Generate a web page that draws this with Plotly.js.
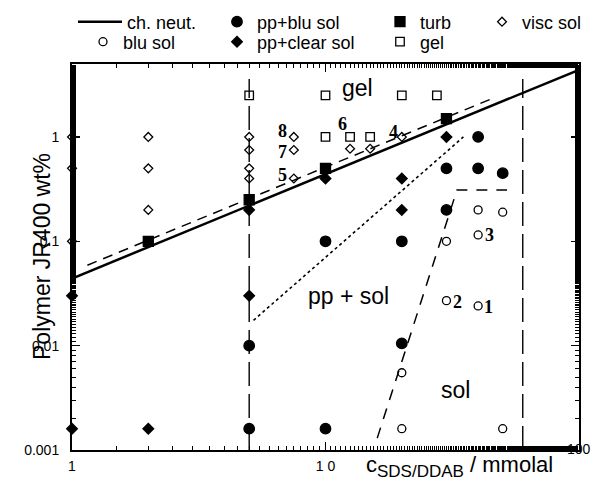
<!DOCTYPE html>
<html>
<head>
<meta charset="utf-8">
<script src="https://cdn.plot.ly/plotly-3.0.1.min.js"></script>
<style>html,body{margin:0;padding:0;background:#fff;}#chart{width:598px;height:489px;}</style>
</head>
<body>
<div id="chart"></div>
<script>
// ---- data ----
const chNeutX = [1, 100];
const chNeutY = [0.044, 4.4];
const chNeutDashX = [1.15, 46];
const chNeutDashY = [0.059, 2.36];
const ppBoundX = [5.2, 35];
const ppBoundY = [0.0175, 1.0];
const solBoundX = [16, 33, 52];
const solBoundY = [0.0013, 0.31, 0.31];
const limitLowX = [5, 5];
const limitHighX = [60, 60];
const limitY = [0.001, 3.6];

const viscX = [1, 1, 1, 2, 2, 2, 5, 5, 5, 5, 7.5, 7.5, 7.5, 12.5, 15, 20];
const viscY = [1, 0.5, 0.1, 1, 0.5, 0.2, 1, 0.75, 0.5, 0.4, 1, 0.75, 0.4, 0.77, 0.77, 1.0];
const gelX = [5, 10, 20, 27.5, 10, 12.5, 15];
const gelY = [2.5, 2.5, 2.5, 2.5, 1, 1, 1];
const turbX = [2, 5, 10, 30];
const turbY = [0.1, 0.25, 0.5, 1.5];
const ppClearX = [1, 1, 2, 5, 5, 10, 20, 20, 30];
const ppClearY = [0.03, 0.0016, 0.0016, 0.2, 0.03, 0.4, 0.4, 0.2, 1.0];
const ppBluX = [5, 5, 10, 10, 20, 20, 30, 30, 40, 40, 50];
const ppBluY = [0.01, 0.0016, 0.0016, 0.1, 0.1, 0.0105, 0.5, 0.2, 1.0, 0.5, 0.45];
const bluX = [20, 20, 30, 30, 40, 40, 40, 50, 50];
const bluY = [0.0055, 0.0016, 0.1, 0.027, 0.2, 0.115, 0.024, 0.19, 0.0016];

const xTickVals = [1, 10];
const xTickText = ['1', '1 0'];
const yTickVals = [0.001, 0.01, 0.1, 1];
const yTickText = ['0.001', '0.01', '0.1', '1'];

const regionLabels = ['gel', 'pp + sol', 'sol'];
const regionX = [13.4, 12.3, 32.7];
const regionY = [2.93, 0.030, 0.0038];
const sampleLabels = ['1', '2', '3', '4', '5', '6', '7', '8'];
const sampleX = [43.8, 33.3, 44.5, 18.6, 6.74, 11.7, 6.74, 6.74];
const sampleY = [0.0235, 0.0262, 0.114, 1.12, 0.435, 1.33, 0.72, 1.14];

// ---- traces ----
const SANS = 'Liberation Sans, Arial, sans-serif';
const lineTrace = (x, y, dash, width, extra) => Object.assign({
  x: x, y: y, type: 'scatter', mode: 'lines', showlegend: false, hoverinfo: 'skip',
  line: {color: 'black', width: width, dash: dash}
}, extra || {});

const markerTrace = (name, x, y, symbol, size, legend) => ({
  x: x, y: y, type: 'scatter', mode: 'markers', name: name, legend: legend,
  cliponaxis: false,
  marker: {symbol: symbol, size: size, color: 'black', line: {color: 'black', width: 1.3}}
});

const traces = [
  lineTrace(limitLowX, limitY, '24px,8px', 1.4),
  lineTrace(limitHighX, limitY, '24px,8px', 1.4),
  lineTrace(ppBoundX, ppBoundY, 'dot', 1.6),
  lineTrace(solBoundX, solBoundY, '11px,9px', 1.5),
  lineTrace(chNeutDashX, chNeutDashY, '10px,7px', 1.5),
  lineTrace(chNeutX, chNeutY, 'solid', 2.5, {showlegend: true, name: 'ch. neut.', legend: 'legend'}),
  markerTrace('pp+blu sol', ppBluX, ppBluY, 'circle', 10.5, 'legend2'),
  markerTrace('turb', turbX, turbY, 'square', 10, 'legend3'),
  markerTrace('visc sol', viscX, viscY, 'diamond-open', 6.8, 'legend4'),
  markerTrace('blu sol', bluX, bluY, 'circle-open', 8, 'legend5'),
  markerTrace('pp+clear sol', ppClearX, ppClearY, 'diamond', 8.2, 'legend6'),
  markerTrace('gel', gelX, gelY, 'square-open', 8.5, 'legend7')
];

// ---- layout helpers (pixel -> paper) ----
const L = 72, R = 19, T = 64, B = 39, W = 598, H = 489;
const pw = W - L - R, ph = H - T - B;
const px = v => (v - L) / pw;
const py = v => (H - B - v) / ph;

const legFont = {family: SANS, size: 18, color: 'black'};
const mkLegend = (x, y, extra) => Object.assign({
  x: px(x), y: py(y), xanchor: 'left', yanchor: 'middle', orientation: 'h',
  bgcolor: 'rgba(0,0,0,0)', borderwidth: 0, font: legFont
}, extra || {});

const annotations = [];
regionLabels.forEach((t, i) => annotations.push({
  x: Math.log10(regionX[i]), y: Math.log10(regionY[i]), xref: 'x', yref: 'y',
  text: t, showarrow: false, font: {family: SANS, size: 23, color: 'black'}
}));
sampleLabels.forEach((t, i) => annotations.push({
  x: Math.log10(sampleX[i]), y: Math.log10(sampleY[i]), xref: 'x', yref: 'y',
  text: '<b>' + t + '</b>', showarrow: false,
  font: {family: 'Liberation Serif, Times New Roman, serif', size: 18, color: 'black'}
}));
// axis titles and raised "100" tick label
annotations.push({
  xref: 'paper', yref: 'paper', x: px(27), y: 0.5, textangle: -90,
  text: 'Polymer JR400 wt%', showarrow: false,
  font: {family: SANS, size: 23, color: 'black'}
});
annotations.push({
  xref: 'paper', yref: 'paper', x: px(364), y: py(450), xanchor: 'left', yanchor: 'top',
  text: 'c<sub><span style="font-size:17px">SDS/DDAB</span></sub> / mmolal', showarrow: false,
  font: {family: SANS, size: 22, color: 'black'}
});
annotations.push({
  xref: 'paper', yref: 'paper', x: px(579), y: py(449), xanchor: 'center', yanchor: 'middle',
  text: '100', showarrow: false, font: {family: SANS, size: 14, color: 'black'}
});

const axisCommon = {
  type: 'log', showgrid: false, zeroline: false,
  showline: true, linecolor: 'black', linewidth: 2, mirror: 'ticks',
  ticks: 'inside', ticklen: 8, tickwidth: 1.2, tickcolor: 'black',
  minor: {ticks: 'inside', ticklen: 4, tickwidth: 1, tickcolor: 'black', showgrid: false},
  tickfont: {family: SANS, size: 14, color: 'black'}
};

const layout = {
  width: W, height: H,
  margin: {l: L, r: R, t: T, b: B, autoexpand: false},
  paper_bgcolor: 'white', plot_bgcolor: 'white',
  showlegend: true,
  xaxis: Object.assign({}, axisCommon, {
    range: [0, 2], tickvals: xTickVals, ticktext: xTickText, ticklabelstandoff: 2
  }),
  yaxis: Object.assign({}, axisCommon, {
    range: [-3, Math.log10(5)], tickvals: yTickVals, ticktext: yTickText, ticklabelstandoff: 8
  }),
  legend: mkLegend(73, 22, {itemwidth: 44}),
  legend2: mkLegend(217, 22),
  legend3: mkLegend(380, 22),
  legend4: mkLegend(482, 22),
  legend5: mkLegend(83, 42),
  legend6: mkLegend(217, 42),
  legend7: mkLegend(380, 42),
  annotations: annotations
};

Plotly.newPlot('chart', traces, layout, {staticPlot: true, displayModeBar: false});
</script>
</body>
</html>
